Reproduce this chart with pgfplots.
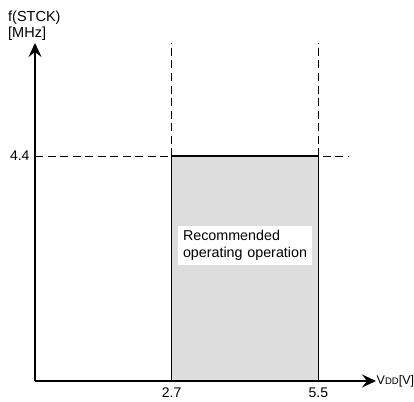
\documentclass[border=0pt]{standalone}
\usepackage{fontspec}
\setmainfont{Liberation Sans}
\usepackage{pgfplots}
\pgfplotsset{compat=1.18}
\usetikzlibrary{arrows.meta}
\definecolor{boxgray}{RGB}{221,221,221}
\begin{document}
\begin{tikzpicture}
\useasboundingbox (-35pt,-20pt) rectangle (379pt,381pt);
\begin{axis}[
  at={(0,0)}, anchor=south west,
  scale only axis, width=341pt, height=338pt,
  xmin=0.092, xmax=6.60, ymin=0, ymax=6.61,
  axis lines=left,
  axis line style={line width=1.6pt, -{Stealth[length=14pt,width=13pt,inset=5pt]}},
  clip=false,
  xtick={2.7,5.5}, ytick={4.4},
  xticklabels={2.7,5.5}, yticklabels={4.4},
  major tick length=0pt,
  /pgf/number format/assume math mode=true,
  tick label style={font=\fontsize{14}{16}\selectfont},
  xticklabel style={yshift=-3pt},
  yticklabel style={xshift=-2pt},
]
\addplot[fill=boxgray, draw=black, line width=1.6pt] coordinates {(2.7,0) (2.7,4.4) (5.5,4.4) (5.5,0)} -- cycle;
\addplot[black, line width=0.8pt, dash pattern=on 8pt off 4.5pt] coordinates {(0.092,4.4) (6.06,4.4)};
\addplot[black, line width=0.8pt, dash pattern=on 8pt off 4.5pt] coordinates {(2.7,4.4) (2.7,6.61)};
\addplot[black, line width=0.8pt, dash pattern=on 8pt off 4.5pt] coordinates {(5.5,4.4) (5.5,6.61)};
\node[fill=white, inner xsep=5pt, inner ysep=0pt, minimum height=39pt, text width=124pt, align=left, font=\fontsize{14.3}{16.5}\selectfont] at (axis cs:4.10,2.65) {\mbox{Recommended}\\\mbox{operating operation}};
\node[anchor=west, inner sep=0pt, font=\fontsize{12.5}{14}\selectfont] at (axis cs:6.61,0) {V{\fontsize{9.5}{10}\selectfont DD}[V]};
\node[anchor=north west, inner sep=0pt, align=left, font=\fontsize{14.5}{15.5}\selectfont] at (-27pt,370pt) {f(STCK)\\{[MHz]}};
\end{axis}
\end{tikzpicture}
\end{document}
